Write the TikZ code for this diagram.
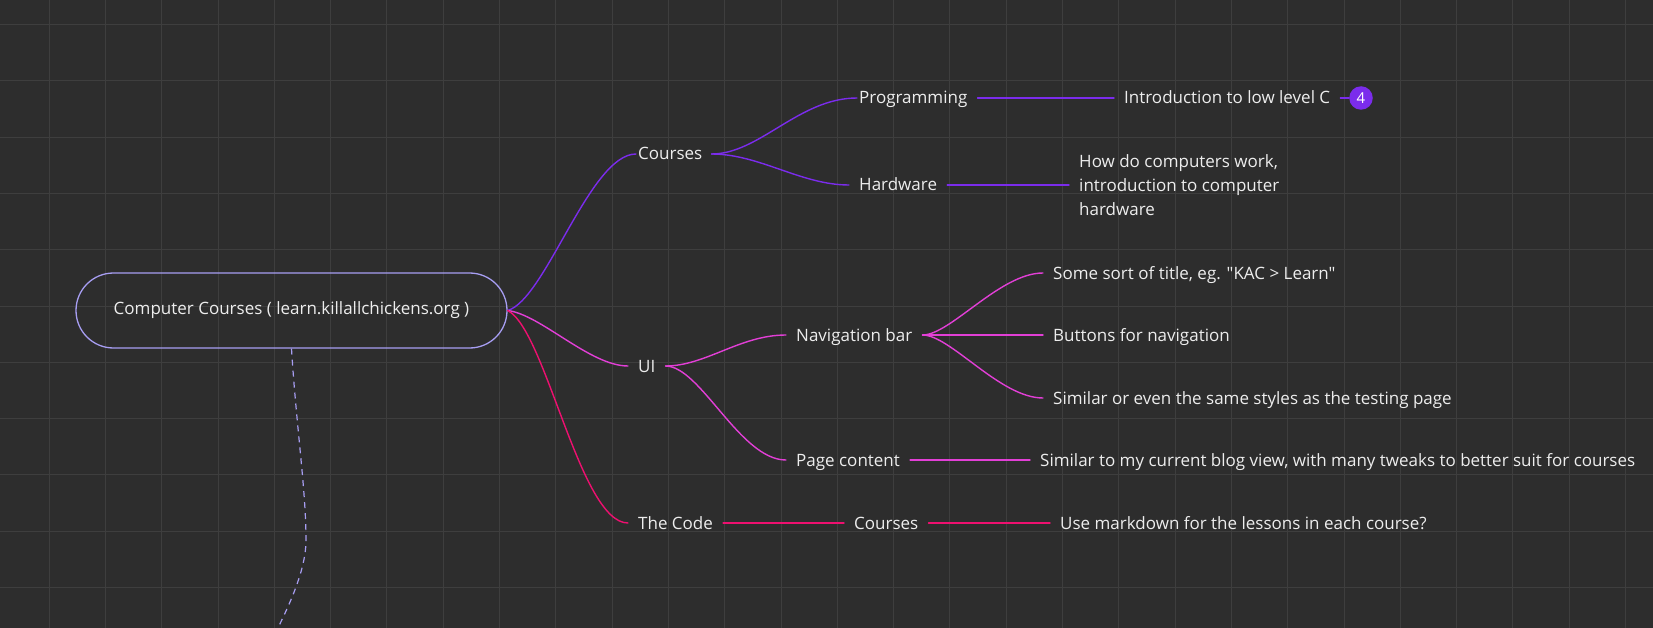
\documentclass[tikz,border=0pt]{standalone}
\usepackage{fontspec}
\setmainfont{Open Sans}
\newfontfamily\osf{Open Sans}
\usetikzlibrary{calc}
\definecolor{bg}{HTML}{2D2D2D}
\definecolor{gridc}{HTML}{3E3E3E}
\definecolor{txt}{HTML}{EDEDED}
\definecolor{rootc}{HTML}{A79EF2}
\definecolor{purp}{HTML}{7B2CEC}
\definecolor{mag}{HTML}{E23FD6}
\definecolor{crim}{HTML}{EE1070}
\tikzset{
  lbl/.style={anchor=west, inner xsep=10pt, inner ysep=2pt, text height=12.5pt, text depth=0.5pt, text=txt, font=\osf\fontsize{17}{24}\selectfont},
  rootbox/.style={draw=rootc, line width=1.3pt, rounded corners=37.5pt, minimum width=431pt, minimum height=75pt, text=txt, font=\osf\fontsize{17}{24}\selectfont},
  br/.style={line width=1.4pt, line cap=round},
  badge/.style={circle, fill=purp, minimum size=23.5pt, inner sep=0pt, text=white, font=\osf\fontsize{15}{18}\selectfont}
}
\begin{document}
\begin{tikzpicture}[x=1pt,y=-1pt]
\fill[bg] (0,0) rectangle (1653,628);
\useasboundingbox (0,0) rectangle (1653,628);
\begin{scope}
\clip (0,0) rectangle (1653,628);
\foreach \k in {0,...,28} {\draw[gridc, line width=1pt] ({round(48.6+56.3*\k)+0.5},0) -- ({round(48.6+56.3*\k)+0.5},628);}
\foreach \k in {0,...,10} {\draw[gridc, line width=1pt] (0,{round(24+56.3*\k)+0.5}) -- (1653,{round(24+56.3*\k)+0.5});}

% root
\node[rootbox] (root) at (291.5,310.5) {Computer Courses ( learn.killallchickens.org )};
\coordinate (dashend) at (262,660);
\draw[rootc, line width=1.2pt, dash pattern=on 6pt off 5pt] (root.south) .. controls +(5,80) and +(0,-50) .. (306,540) .. controls +(0,40) and +(14,-30) .. (dashend);

% nodes
\node[lbl] (courses) at (628,154) {Courses};
\node[lbl] (prog) at (849,98) {Programming};
\node[lbl] (intro) at (1114,98) {Introduction to low level C};
\node[badge] (badge) at (1361,98) {4};
\node[lbl, text height=, text depth=, align=left] (hwtext) at (1069,185) {How do computers work,\\introduction to computer\\hardware};
\node[lbl] (hw) at (849,185) {Hardware};
\node[lbl] (ui) at (628,366) {UI};
\node[lbl] (nav) at (786,335) {Navigation bar};
\node[lbl] (t1) at (1043,273) {Some sort of title, eg. "KAC > Learn"};
\node[lbl] (t2) at (1043,335) {Buttons for navigation};
\node[lbl] (t3) at (1043,398) {Similar or even the same styles as the testing page};
\node[lbl] (page) at (786,460) {Page content};
\node[lbl] (pagetext) at (1030,460) {Similar to my current blog view, with many tweaks to better suit for courses};
\node[lbl] (code) at (628,523) {The Code};
\node[lbl] (courses2) at (844,523) {Courses};
\node[lbl] (md) at (1050,523) {Use markdown for the lessons in each course?};

% purple branch
\draw[br, purp] (root.east) .. controls +(38,-11) and +(-46,0) .. ([xshift=8pt]courses.west);
\draw[br, purp] ([xshift=-1pt]courses.east) .. controls +(48,0) and +(-58,0) .. ([xshift=8pt]prog.west);
\draw[br, purp] ([xshift=-1pt]courses.east) .. controls +(48,0) and +(-48,0) .. (hw.west);
\draw[br, purp] (prog.east) -- (intro.west);
\draw[br, purp] (hw.east) -- (hwtext.west);
\draw[br, purp] (intro.east) -- (badge.west);

% magenta branch
\draw[br, mag] (root.east) .. controls +(33,4) and +(-38,0) .. (ui.west);
\draw[br, mag] (ui.east) .. controls +(40,0) and +(-46,0) .. (nav.west);
\draw[br, mag] (ui.east) .. controls +(35,0) and +(-46,0) .. (page.west);
\draw[br, mag] (nav.east) .. controls +(28,0) and +(-43,0) .. (t1.west);
\draw[br, mag] (nav.east) -- (t2.west);
\draw[br, mag] (nav.east) .. controls +(28,0) and +(-43,0) .. (t3.west);
\draw[br, mag] (page.east) -- (pagetext.west);

% crimson branch
\draw[br, crim] (root.east) .. controls +(38,19) and +(-48,0) .. (code.west);
\draw[br, crim] (code.east) -- (courses2.west);
\draw[br, crim] (courses2.east) -- (md.west);
\end{scope}
\end{tikzpicture}
\end{document}
